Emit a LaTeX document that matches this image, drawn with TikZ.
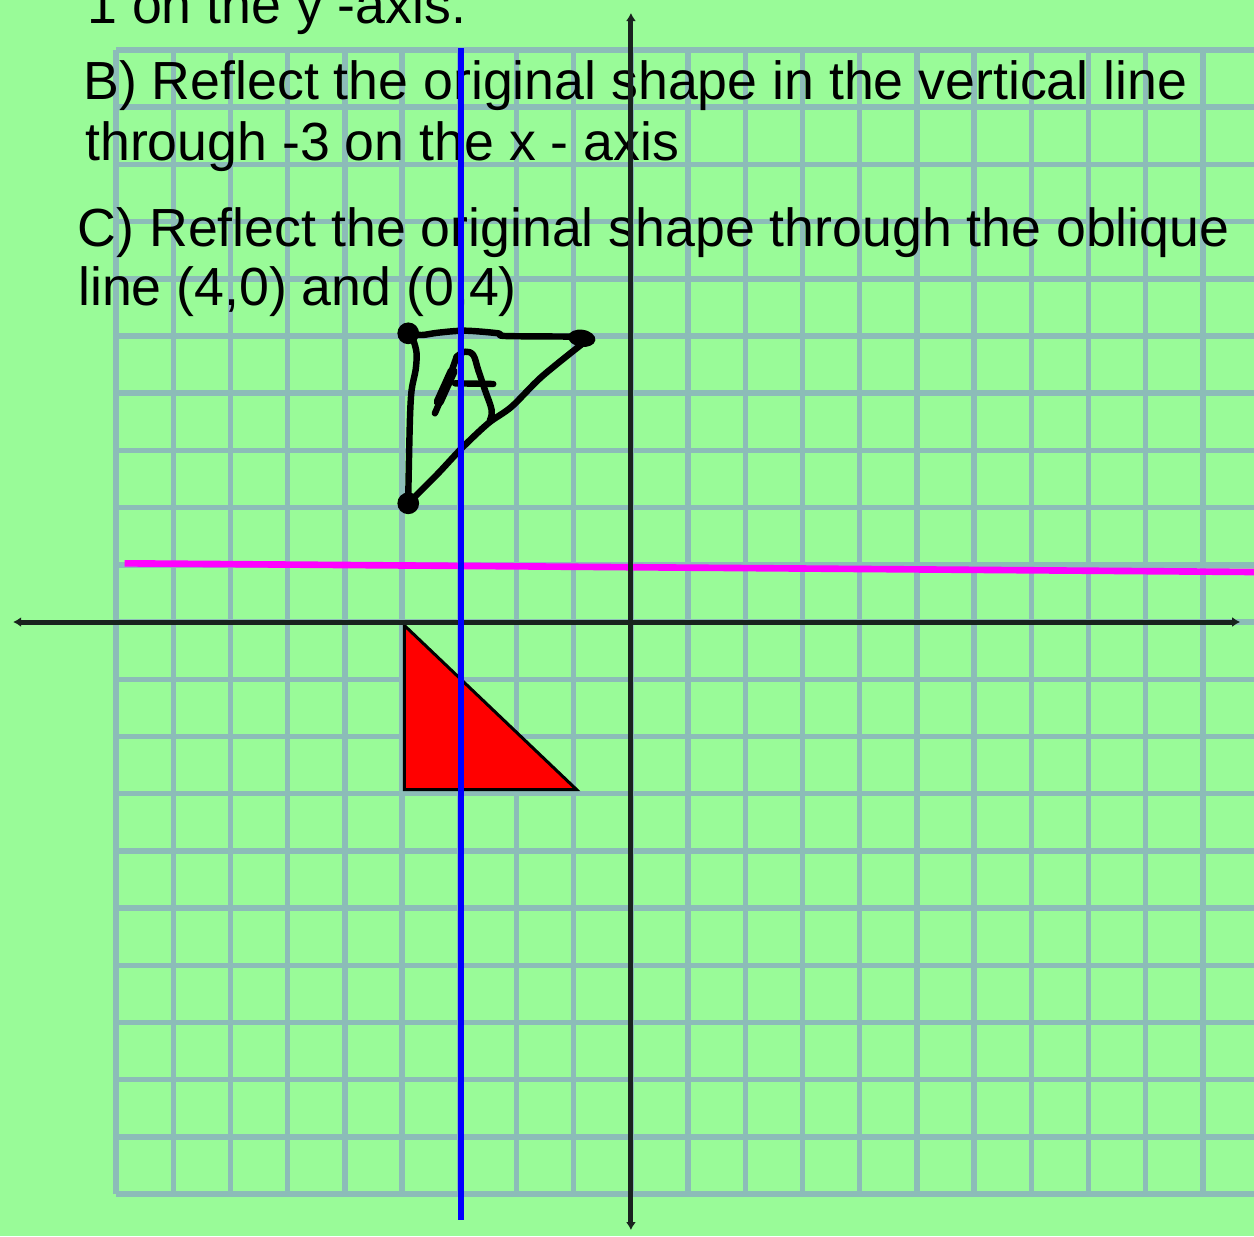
\documentclass[tikz,border=0pt]{standalone}
\usepackage{fontspec}
\setmainfont{Liberation Sans}
\usetikzlibrary{arrows.meta, positioning}
\definecolor{cPaper}{RGB}{153,251,152}
\definecolor{cGrid}{RGB}{140,188,184}
\definecolor{cAxis}{RGB}{25,35,30}
\definecolor{cMirrorV}{RGB}{0,0,255}
\definecolor{cMirrorH}{RGB}{255,0,255}
\definecolor{cShape}{RGB}{255,0,0}
\tikzset{
	gridline/.style ={line width=2.7pt, cGrid},
	axis/.style     ={line width=2.5pt, cAxis, {Latex[length=4pt,width=5pt]}-{Latex[length=4pt,width=5pt]}},
	mirror/.style   ={line width=3.3pt},
	task/.style     ={anchor=base west, inner sep=0pt, font=\fontsize{26.7pt}{30pt}\selectfont},
	pen/.style      ={line width=3.2pt, black, line cap=round, line join=round},
	shapefill/.style={fill=cShape, draw=black, line width=1.5pt},
}

\begin{document}
\begin{tikzpicture}
	\useasboundingbox (-11.03,-10.734) rectangle (10.892,10.874);
	\clip (-11.03,-10.734) rectangle (10.892,10.874);
	\fill[cPaper] (-11.03,-10.734) rectangle (10.892,10.874);
	\draw[gridline] (-9,-10) grid (11.5,10);
	% questions
	\node[task] (lineA) at (-9.51,10.455) {1 on the y -axis.};
	\node[task] (lineB1) at (-9.58,9.126) {B) Reflect the original shape in the vertical line};
	\node[task] (lineB2) at (-9.545,8.065) {through -3 on the x - axis};
	\node[task] (lineC1) at (-9.677,6.561) {C) Reflect the original shape through the oblique};
	\node[task] (lineC2) at (-9.668,5.542) {line (4,0) and (0,4)};
	% horizontal mirror line
	\draw[mirror, cMirrorH] (-8.85,1.026) -- (11.2,0.872);
	% original shape
	\draw[shapefill] (-3.96,-0.06) -- (-3.96,-2.93) -- (-0.95,-2.93) -- cycle;
	% hand drawn image A
	\draw[pen] plot[smooth, tension=0.5] coordinates {(-3.893,5.047) (-3.659,5.017) (-3.369,5.058) (-2.902,5.093) (-2.320,5.047) (-2.203,5.000) (-0.979,4.988) (-0.85,4.96)};
	\draw[pen] plot[smooth, tension=0.5] coordinates {(-0.804,4.900) (-1.561,4.288) (-2.086,3.764) (-2.495,3.474) (-2.960,3.037) (-3.369,2.600) (-3.834,2.133) (-3.893,2.075)};
	\draw[pen] plot[smooth, tension=0.5] coordinates {(-3.893,5.047) (-3.806,4.930) (-3.747,4.698) (-3.764,4.406) (-3.834,4.056) (-3.864,3.531) (-3.893,2.191) (-3.893,2.075)};
	\fill (-3.893,5.047) circle (0.19);
	\fill (-3.893,2.075) circle (0.19);
	\fill[rotate around={-8:(-0.86,4.96)}] (-0.86,4.96) ellipse (0.24 and 0.15);
	\draw[pen] (-3.427,3.649) -- (-3.252,4.056) -- (-3.047,4.638);
	\draw[pen, line width=5pt] (-3.36,3.85) -- (-3.12,4.38);
	\draw[pen] plot[smooth, tension=0.6] coordinates {(-3.047,4.638) (-2.902,4.726) (-2.757,4.668) (-2.670,4.406) (-2.552,4.056) (-2.435,3.706) (-2.465,3.531)};
	\draw[pen] (-3.077,4.173) -- (-2.407,4.161);
	% axes
	\draw[axis] (-10.80,0) -- (10.65,0);
	\draw[axis] (0,-10.63) -- (0,10.647);
	% vertical mirror line
	\draw[mirror, cMirrorV] (-2.97,-10.45) -- (-2.97,10.03);
\end{tikzpicture}
\end{document}
